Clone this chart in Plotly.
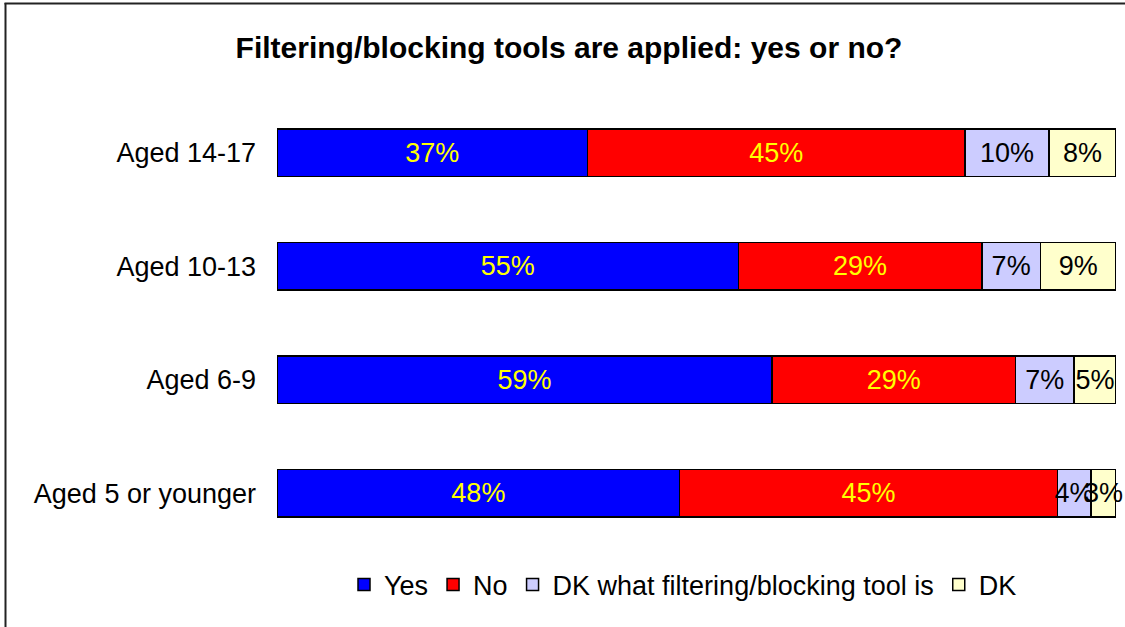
import plotly.graph_objects as go

# Survey results: share of responses per age group (percent)
age_groups = ["Aged 14-17", "Aged 10-13", "Aged 6-9", "Aged 5 or younger"]
yes_vals = [37, 55, 59, 48]
no_vals = [45, 29, 29, 45]
dk_what_vals = [10, 7, 7, 4]
dk_vals = [8, 9, 5, 3]

series = [
    ("Yes", yes_vals, "#0000FF", "#FFFF00"),
    ("No", no_vals, "#FF0000", "#FFFF00"),
    ("DK what filtering/blocking tool is", dk_what_vals, "#CCCCFF", "#000000"),
    ("DK", dk_vals, "#FFFFCC", "#000000"),
]

FONT = "Liberation Sans, Arial, sans-serif"

fig = go.Figure()
for name, vals, fill, txt in series:
    fig.add_trace(go.Bar(
        name=name,
        y=age_groups,
        x=vals,
        orientation="h",
        marker=dict(color=fill, line=dict(color="#000000", width=1.5)),
        text=[f"{v}%" for v in vals],
        textposition="inside",
        insidetextanchor="middle",
        textangle=0,
        constraintext="none",
        textfont=dict(family=FONT, size=27, color=txt),
        cliponaxis=False,
        hoverinfo="skip",
    ))

# frame lines along the top and left edges of the figure
plot_l, plot_r, plot_t, plot_b = 277, 1116, 96, 550
pw, ph = plot_r - plot_l, plot_b - plot_t

def px_x(x):
    return (x - plot_l) / pw

def px_y(y):
    return (plot_b - y) / ph

fig.add_shape(type="line", xref="paper", yref="paper",
              x0=px_x(4.5), x1=px_x(1126), y0=px_y(3.5), y1=px_y(3.5),
              line=dict(color="#222222", width=2))
fig.add_shape(type="line", xref="paper", yref="paper",
              x0=px_x(5.5), x1=px_x(5.5), y0=px_y(3), y1=px_y(628),
              line=dict(color="#222222", width=2))

fig.update_layout(
    width=1125,
    height=627,
    barmode="stack",
    bargap=0.585,
    plot_bgcolor="white",
    paper_bgcolor="white",
    margin=dict(l=plot_l, r=1125 - plot_r, t=plot_t, b=627 - plot_b, pad=0),
    font=dict(family=FONT, size=27, color="#000000"),
    title=dict(
        text="<b>Filtering/blocking tools are applied: yes or no?</b>",
        font=dict(family=FONT, size=30, color="#000000"),
        x=(233 + 905) / 2 / 1125, xanchor="center",
        y=1 - 47 / 627, yanchor="middle", yref="container",
    ),
    xaxis=dict(range=[0, 100], visible=False, fixedrange=True),
    yaxis=dict(
        categoryorder="array",
        categoryarray=age_groups,
        autorange="reversed",
        showgrid=False,
        zeroline=False,
        showline=False,
        ticks="",
        ticklabelstandoff=20,
        tickfont=dict(family=FONT, size=27, color="#000000"),
    ),
    legend=dict(
        orientation="h",
        x=px_x(683), xanchor="center",
        y=px_y(585), yanchor="middle",
        font=dict(family=FONT, size=27, color="#000000"),
        traceorder="normal",
        itemclick=False,
        itemdoubleclick=False,
        tracegroupgap=0,
    ),
    showlegend=True,
)

fig.write_html("out.html")
